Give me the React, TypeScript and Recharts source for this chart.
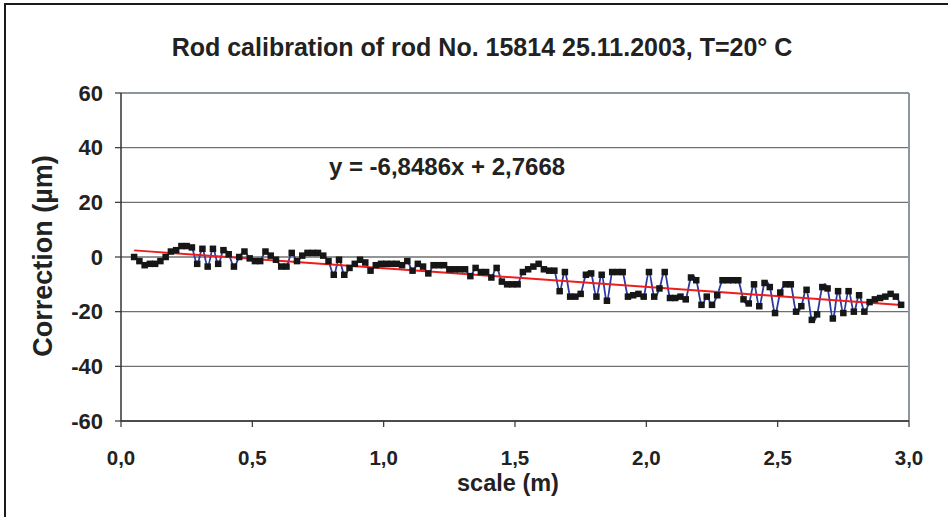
import React from "react";
import { LineChart, Line, XAxis, YAxis, CartesianGrid, ReferenceLine } from "recharts";

const scaleX = [
  0.05, 0.07, 0.09, 0.11, 0.13, 0.15, 0.17, 0.19, 0.21, 0.23, 0.25, 0.27, 0.29, 0.31, 0.33, 0.35, 0.37, 0.39, 0.41, 0.43,
  0.45, 0.47, 0.49, 0.51, 0.53, 0.55, 0.57, 0.59, 0.61, 0.63, 0.65, 0.67, 0.69, 0.71, 0.73, 0.75, 0.77, 0.79, 0.81, 0.83,
  0.85, 0.87, 0.89, 0.91, 0.93, 0.95, 0.97, 0.99, 1.01, 1.03, 1.05, 1.07, 1.09, 1.11, 1.13, 1.15, 1.17, 1.19, 1.21, 1.23,
  1.25, 1.27, 1.29, 1.31, 1.33, 1.35, 1.37, 1.39, 1.41, 1.43, 1.45, 1.47, 1.49, 1.51, 1.53, 1.55, 1.57, 1.59, 1.61, 1.63,
  1.65, 1.67, 1.69, 1.71, 1.73, 1.75, 1.77, 1.79, 1.81, 1.83, 1.85, 1.87, 1.89, 1.91, 1.93, 1.95, 1.97, 1.99, 2.01, 2.03,
  2.05, 2.07, 2.09, 2.11, 2.13, 2.15, 2.17, 2.19, 2.21, 2.23, 2.25, 2.27, 2.29, 2.31, 2.33, 2.35, 2.37, 2.39, 2.41, 2.43,
  2.45, 2.47, 2.49, 2.51, 2.53, 2.55, 2.57, 2.59, 2.61, 2.63, 2.65, 2.67, 2.69, 2.71, 2.73, 2.75, 2.77, 2.79, 2.81, 2.83,
  2.85, 2.87, 2.89, 2.91, 2.93, 2.95, 2.97,
];

const correction = [
  0, -1.5, -3, -2.5, -2.5, -1.5, 0, 2, 2.5, 4, 4, 3.5, -2.5, 3, -3.5, 3, -2.5, 2.5, 1, -3.5,
  0, 2, -0.5, -1.5, -1.5, 2, 0.5, -1, -3.5, -3.5, 1.5, -1.5, 0.5, 1.5, 1.5, 1.5, 0.5, -1.5, -6.5, -1,
  -6.5, -4, -2.5, -1, -2, -5, -3, -2.5, -2.5, -2.5, -2.5, -3, -1.5, -5, -2.5, -3.5, -6, -3, -3, -3,
  -4.5, -4.5, -4.5, -4.5, -7, -4, -5.5, -5.5, -7.5, -4, -9, -10, -10, -10, -5.5, -4.5, -3.5, -2.5, -4.5, -5,
  -5, -12.5, -5.5, -14.5, -14.5, -13.5, -6.5, -6, -14.5, -6.5, -16, -5.5, -5.5, -5.5, -14.5, -14, -13.5, -14.5, -5.5, -14.5,
  -11.5, -5.5, -15, -15, -14.5, -15.5, -7.5, -8.5, -17.5, -14.5, -17.5, -14, -8.5, -8.5, -8.5, -8.5, -15.5, -17, -10, -18,
  -9.5, -11, -20.5, -13, -10, -10, -20, -18, -12, -23, -21, -11, -11.5, -22.5, -12.5, -20.5, -12.5, -20, -14, -20,
  -16.5, -15.5, -15, -14.5, -13.5, -14.5, -17.5,
];

const xTicks = [0, 0.5, 1, 1.5, 2, 2.5, 3];
const yTicks = [-60, -40, -20, 0, 20, 40, 60];

const trendSlope = -6.8486;
const trendIntercept = 2.7668;
const trendLabel = "y = -6,8486x + 2,7668";

const chartTitle = "Rod calibration of rod No. 15814 25.11.2003, T=20° C";
const xTitle = "scale (m)";
const yTitle = "Correction (µm)";

const data = scaleX.map((x, i) => ({ x, y: correction[i] }));
const xFirst = scaleX[0];
const xLast = scaleX[scaleX.length - 1];

const FONT = "'Liberation Sans', Arial, sans-serif";

// Catmull-Rom style smoothing similar to Excel's smoothed line
const smoothCurve = (context: any) => {
  let pts: number[][] = [];
  return {
    areaStart() {},
    areaEnd() {},
    lineStart() {
      pts = [];
    },
    point(x: number, y: number) {
      pts.push([+x, +y]);
    },
    lineEnd() {
      if (!pts.length) return;
      context.moveTo(pts[0][0], pts[0][1]);
      const t = 1 / 6;
      for (let i = 0; i < pts.length - 1; i++) {
        const p0 = pts[i - 1] || pts[i];
        const p1 = pts[i];
        const p2 = pts[i + 1];
        const p3 = pts[i + 2] || p2;
        context.bezierCurveTo(
          p1[0] + (p2[0] - p0[0]) * t,
          p1[1] + (p2[1] - p0[1]) * t,
          p2[0] - (p3[0] - p1[0]) * t,
          p2[1] - (p3[1] - p1[1]) * t,
          p2[0],
          p2[1]
        );
      }
    },
  };
};

const SquareDot = (props: any) => {
  const { cx, cy, index } = props;
  if (cx == null || cy == null) return <g key={index} />;
  return <rect key={index} x={cx - 3.25} y={cy - 3.25} width={6.5} height={6.5} fill="#161616" />;
};

const fmtX = (v: number) => v.toFixed(1).replace(".", ",");

export default function App() {
  return (
    <div
      style={{
        position: "absolute",
        left: 0,
        top: 0,
        width: 948,
        height: 517,
        overflow: "hidden",
        background: "#fff",
        fontFamily: FONT,
      }}
    >
      <div
        style={{
          position: "absolute",
          left: 4,
          top: 3,
          width: 960,
          height: 530,
          borderTop: "2px solid #1a1a1a",
          borderLeft: "2px solid #1a1a1a",
        }}
      />
      <div style={{ position: "absolute", left: 0, top: 0 }}>
        <LineChart
          width={948}
          height={517}
          data={data}
          margin={{ top: 93, right: 39, bottom: 36, left: 41 }}
        >
          <CartesianGrid vertical={false} stroke="#707070" strokeWidth={1.3} />
          <XAxis
            type="number"
            dataKey="x"
            domain={[0, 3]}
            ticks={xTicks}
            tickFormatter={fmtX}
            height={60}
            tickSize={6}
            tickMargin={23}
            axisLine={{ stroke: "#333", strokeWidth: 1.5 }}
            tickLine={{ stroke: "#333", strokeWidth: 1.2 }}
            tick={{ fill: "#222", fontSize: 20.5, fontWeight: 700, fontFamily: FONT }}
            allowDataOverflow
          />
          <YAxis
            type="number"
            domain={[-60, 60]}
            ticks={yTicks}
            width={80}
            tickSize={6}
            tickMargin={12}
            axisLine={{ stroke: "#333", strokeWidth: 1.5 }}
            tickLine={{ stroke: "#333", strokeWidth: 1.2 }}
            tick={{ fill: "#222", fontSize: 22, fontWeight: 700, fontFamily: FONT }}
            allowDataOverflow
          />
          <ReferenceLine y={60} stroke="#8e959d" strokeWidth={2} />
          <ReferenceLine x={3} stroke="#8e959d" strokeWidth={2} />
          <Line
            dataKey="y"
            type={smoothCurve as any}
            stroke="#2a3a9e"
            strokeWidth={1.8}
            dot={SquareDot}
            activeDot={false}
            isAnimationActive={false}
          />
          <ReferenceLine
            segment={[
              { x: xFirst, y: trendSlope * xFirst + trendIntercept },
              { x: xLast, y: trendSlope * xLast + trendIntercept },
            ]}
            stroke="#f01c1c"
            strokeWidth={2}
          />
        </LineChart>
      </div>
      <svg
        width={948}
        height={517}
        style={{ position: "absolute", left: 0, top: 0, pointerEvents: "none" }}
      >
        <text x={482} y={56} textAnchor="middle" fontSize={25} fontWeight={700} fill="#222" fontFamily={FONT}>
          {chartTitle}
        </text>
        <text x={447} y={175} textAnchor="middle" fontSize={24} fontWeight={700} fill="#222" fontFamily={FONT}>
          {trendLabel}
        </text>
        <text x={508} y={491} textAnchor="middle" fontSize={23.5} fontWeight={700} fill="#222" fontFamily={FONT}>
          {xTitle}
        </text>
        <text
          x={52}
          y={256}
          textAnchor="middle"
          fontSize={27}
          fontWeight={700}
          fill="#222"
          fontFamily={FONT}
          transform="rotate(-90, 52, 256)"
        >
          {yTitle}
        </text>
      </svg>
    </div>
  );
}
